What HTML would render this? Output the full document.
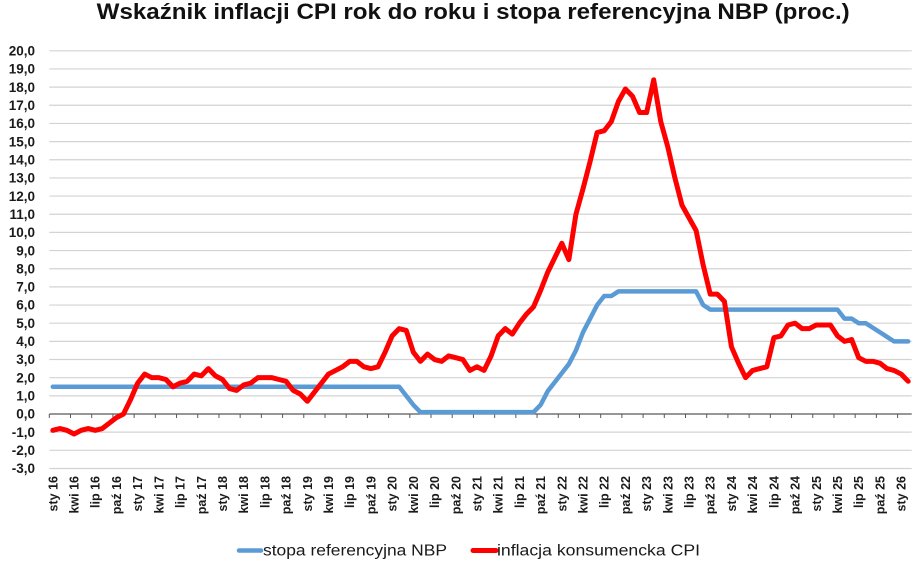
<!DOCTYPE html>
<html>
<head>
<meta charset="utf-8">
<style>
html,body{margin:0;padding:0;background:#fff;}
svg{display:block;font-family:"Liberation Sans","DejaVu Sans",sans-serif;}
</style>
</head>
<body>
<svg width="920" height="567" viewBox="0 0 920 567" xmlns="http://www.w3.org/2000/svg">
<rect width="920" height="567" fill="#fff"/>
<text x="96.7" y="19" font-size="22" font-weight="bold" fill="#111" textLength="753" lengthAdjust="spacingAndGlyphs">Wskaźnik inflacji CPI rok do roku i stopa referencyjna NBP (proc.)</text>

<g transform="matrix(7.069 0 0 -18.16 52.83 414)">
  <g stroke="#d3d3d3" stroke-width="1.2" vector-effect="non-scaling-stroke" fill="none">
    <path vector-effect="non-scaling-stroke" d="M-0.5 20H121.5M-0.5 19H121.5M-0.5 18H121.5M-0.5 17H121.5M-0.5 16H121.5M-0.5 15H121.5M-0.5 14H121.5M-0.5 13H121.5M-0.5 12H121.5M-0.5 11H121.5M-0.5 10H121.5M-0.5 9H121.5M-0.5 8H121.5M-0.5 7H121.5M-0.5 6H121.5M-0.5 5H121.5M-0.5 4H121.5M-0.5 3H121.5M-0.5 2H121.5M-0.5 1H121.5M-0.5 -1H121.5M-0.5 -2H121.5M-0.5 -3H121.5"/>
  </g>
  <path vector-effect="non-scaling-stroke" stroke="#595959" stroke-width="1.2" fill="none" d="M-0.5 0H121.5"/>
  <path vector-effect="non-scaling-stroke" stroke="#595959" stroke-width="1" fill="none" d="M-0.5 0v-0.22M2.5 0v-0.22M5.5 0v-0.22M8.5 0v-0.22M11.5 0v-0.22M14.5 0v-0.22M17.5 0v-0.22M20.5 0v-0.22M23.5 0v-0.22M26.5 0v-0.22M29.5 0v-0.22M32.5 0v-0.22M35.5 0v-0.22M38.5 0v-0.22M41.5 0v-0.22M44.5 0v-0.22M47.5 0v-0.22M50.5 0v-0.22M53.5 0v-0.22M56.5 0v-0.22M59.5 0v-0.22M62.5 0v-0.22M65.5 0v-0.22M68.5 0v-0.22M71.5 0v-0.22M74.5 0v-0.22M77.5 0v-0.22M80.5 0v-0.22M83.5 0v-0.22M86.5 0v-0.22M89.5 0v-0.22M92.5 0v-0.22M95.5 0v-0.22M98.5 0v-0.22M101.5 0v-0.22M104.5 0v-0.22M107.5 0v-0.22M110.5 0v-0.22M113.5 0v-0.22M116.5 0v-0.22M119.5 0v-0.22"/>

  <polyline vector-effect="non-scaling-stroke" fill="none" stroke="#5B9BD5" stroke-width="4.5" stroke-linejoin="round" stroke-linecap="round"
    points="0,1.5 49,1.5 50,1.0 51,0.5 52,0.1 68,0.1 69,0.5 70,1.25 71,1.75 72,2.25 73,2.75 74,3.5 75,4.5 76,5.25 77,6.0 78,6.5 79,6.5 80,6.75 91,6.75 92,6.0 93,5.75 111,5.75 112,5.25 113,5.25 114,5.0 115,5.0 116,4.75 117,4.5 118,4.25 119,4.0 121,4.0"/>

  <polyline vector-effect="non-scaling-stroke" fill="none" stroke="#FF0000" stroke-width="5" stroke-linejoin="round" stroke-linecap="round"
    points="0,-0.9 1,-0.8 2,-0.9 3,-1.1 4,-0.9 5,-0.8 6,-0.9 7,-0.8 8,-0.5 9,-0.2 10,0 11,0.8 12,1.7 13,2.2 14,2.0 15,2.0 16,1.9 17,1.5 18,1.7 19,1.8 20,2.2 21,2.1 22,2.5 23,2.1 24,1.9 25,1.4 26,1.3 27,1.6 28,1.7 29,2.0 30,2.0 31,2.0 32,1.9 33,1.8 34,1.3 35,1.1 36,0.7 37,1.2 38,1.7 39,2.2 40,2.4 41,2.6 42,2.9 43,2.9 44,2.6 45,2.5 46,2.6 47,3.4 48,4.3 49,4.7 50,4.6 51,3.4 52,2.9 53,3.3 54,3.0 55,2.9 56,3.2 57,3.1 58,3.0 59,2.4 60,2.6 61,2.4 62,3.2 63,4.3 64,4.7 65,4.4 66,5.0 67,5.5 68,5.9 69,6.8 70,7.8 71,8.6 72,9.4 73,8.5 74,11.0 75,12.4 76,13.9 77,15.5 78,15.6 79,16.1 80,17.2 81,17.9 82,17.5 83,16.6 84,16.6 85,18.4 86,16.1 87,14.7 88,13.0 89,11.5 90,10.8 91,10.1 92,8.2 93,6.6 94,6.6 95,6.2 96,3.7 97,2.8 98,2.0 99,2.4 100,2.5 101,2.6 102,4.2 103,4.3 104,4.9 105,5.0 106,4.7 107,4.7 108,4.9 109,4.9 110,4.9 111,4.3 112,4.0 113,4.1 114,3.1 115,2.9 116,2.9 117,2.8 118,2.5 119,2.4 120,2.2 121,1.8"/>
</g>

<g font-size="13.5" font-weight="bold" fill="#1a1a1a" text-anchor="end">
<text x="35" y="55.5">20,0</text>
<text x="35" y="73.7">19,0</text>
<text x="35" y="91.8">18,0</text>
<text x="35" y="110">17,0</text>
<text x="35" y="128.1">16,0</text>
<text x="35" y="146.3">15,0</text>
<text x="35" y="164.5">14,0</text>
<text x="35" y="182.6">13,0</text>
<text x="35" y="200.8">12,0</text>
<text x="35" y="218.9">11,0</text>
<text x="35" y="237.1">10,0</text>
<text x="35" y="255.3">9,0</text>
<text x="35" y="273.4">8,0</text>
<text x="35" y="291.6">7,0</text>
<text x="35" y="309.7">6,0</text>
<text x="35" y="327.9">5,0</text>
<text x="35" y="346.1">4,0</text>
<text x="35" y="364.2">3,0</text>
<text x="35" y="382.4">2,0</text>
<text x="35" y="400.5">1,0</text>
<text x="35" y="418.7">0,0</text>
<text x="35" y="436.9">-1,0</text>
<text x="35" y="455">-2,0</text>
<text x="35" y="473.2">-3,0</text>
</g>

<g font-size="12.5" font-weight="bold" fill="#1a1a1a" text-anchor="end">
<text transform="translate(57.3 476) rotate(-90)">sty 16</text>
<text transform="translate(78.5 476) rotate(-90)">kwi 16</text>
<text transform="translate(99.7 476) rotate(-90)">lip 16</text>
<text transform="translate(120.9 476) rotate(-90)">paź 16</text>
<text transform="translate(142.2 476) rotate(-90)">sty 17</text>
<text transform="translate(163.4 476) rotate(-90)">kwi 17</text>
<text transform="translate(184.6 476) rotate(-90)">lip 17</text>
<text transform="translate(205.8 476) rotate(-90)">paź 17</text>
<text transform="translate(227.0 476) rotate(-90)">sty 18</text>
<text transform="translate(248.2 476) rotate(-90)">kwi 18</text>
<text transform="translate(269.4 476) rotate(-90)">lip 18</text>
<text transform="translate(290.6 476) rotate(-90)">paź 18</text>
<text transform="translate(311.8 476) rotate(-90)">sty 19</text>
<text transform="translate(333.0 476) rotate(-90)">kwi 19</text>
<text transform="translate(354.2 476) rotate(-90)">lip 19</text>
<text transform="translate(375.4 476) rotate(-90)">paź 19</text>
<text transform="translate(396.6 476) rotate(-90)">sty 20</text>
<text transform="translate(417.8 476) rotate(-90)">kwi 20</text>
<text transform="translate(439.1 476) rotate(-90)">lip 20</text>
<text transform="translate(460.3 476) rotate(-90)">paź 20</text>
<text transform="translate(481.5 476) rotate(-90)">sty 21</text>
<text transform="translate(502.7 476) rotate(-90)">kwi 21</text>
<text transform="translate(523.9 476) rotate(-90)">lip 21</text>
<text transform="translate(545.1 476) rotate(-90)">paź 21</text>
<text transform="translate(566.3 476) rotate(-90)">sty 22</text>
<text transform="translate(587.5 476) rotate(-90)">kwi 22</text>
<text transform="translate(608.7 476) rotate(-90)">lip 22</text>
<text transform="translate(629.9 476) rotate(-90)">paź 22</text>
<text transform="translate(651.1 476) rotate(-90)">sty 23</text>
<text transform="translate(672.3 476) rotate(-90)">kwi 23</text>
<text transform="translate(693.5 476) rotate(-90)">lip 23</text>
<text transform="translate(714.7 476) rotate(-90)">paź 23</text>
<text transform="translate(736.0 476) rotate(-90)">sty 24</text>
<text transform="translate(757.2 476) rotate(-90)">kwi 24</text>
<text transform="translate(778.4 476) rotate(-90)">lip 24</text>
<text transform="translate(799.6 476) rotate(-90)">paź 24</text>
<text transform="translate(820.8 476) rotate(-90)">sty 25</text>
<text transform="translate(842.0 476) rotate(-90)">kwi 25</text>
<text transform="translate(863.2 476) rotate(-90)">lip 25</text>
<text transform="translate(884.4 476) rotate(-90)">paź 25</text>
<text transform="translate(905.6 476) rotate(-90)">sty 26</text>
</g>

<line x1="239" y1="550.5" x2="261" y2="550.5" stroke="#5B9BD5" stroke-width="4.5" stroke-linecap="round"/>
<text x="263" y="555.5" font-size="15.5" fill="#1a1a1a" textLength="184" lengthAdjust="spacingAndGlyphs">stopa referencyjna NBP</text>
<line x1="473" y1="550.5" x2="496" y2="550.5" stroke="#FF0000" stroke-width="5" stroke-linecap="round"/>
<text x="497" y="555.5" font-size="15.5" fill="#1a1a1a" textLength="203" lengthAdjust="spacingAndGlyphs">inflacja konsumencka CPI</text>
</svg>
</body>
</html>
